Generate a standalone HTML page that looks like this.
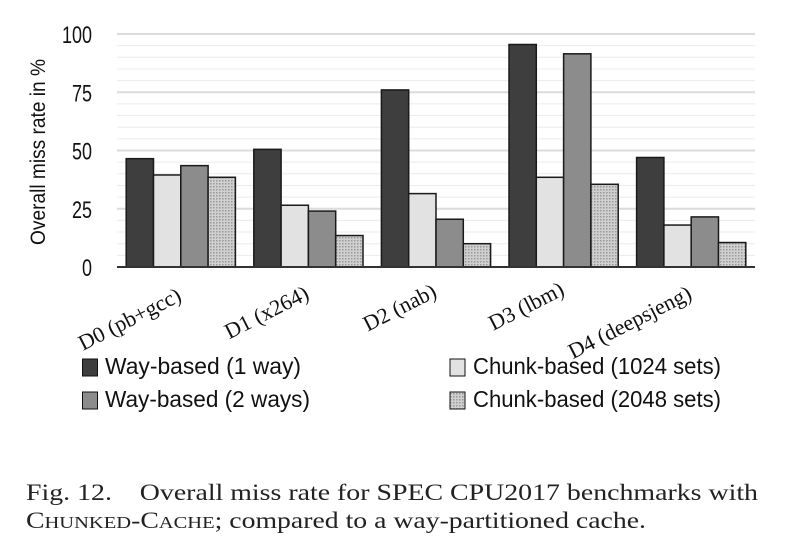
<!DOCTYPE html>
<html><head><meta charset="utf-8"><style>
body{margin:0;background:#fff;width:810px;height:550px;overflow:hidden}
</style></head><body>
<svg width="810" height="550" xmlns="http://www.w3.org/2000/svg">
<defs>
<pattern id="dots" width="3" height="3" patternUnits="userSpaceOnUse"><rect width="3" height="3" fill="#d0d0d0"/><rect width="1.5" height="1.5" fill="#999"/></pattern>
</defs>
<g id="grid"></g>
<g id="bars"></g>
<g id="labels"></g>
<text transform="translate(45,152) rotate(-90)" text-anchor="middle" font-family="Liberation Sans, sans-serif" font-size="21" textLength="186" lengthAdjust="spacingAndGlyphs" fill="#111">Overall miss rate in %</text>
<g font-family="Liberation Sans, sans-serif" font-size="23" fill="#111">
<rect x="82.5" y="359" width="15" height="17" fill="#3e3e3e" stroke="#111"/>
<text x="105" y="374" textLength="196" lengthAdjust="spacingAndGlyphs">Way-based (1 way)</text>
<rect x="82.5" y="392" width="15" height="17" fill="#8c8c8c" stroke="#111"/>
<text x="105" y="407" textLength="205" lengthAdjust="spacingAndGlyphs">Way-based (2 ways)</text>
<rect x="450" y="359" width="15" height="17" fill="#e2e2e2" stroke="#111"/>
<text x="473" y="374" textLength="248" lengthAdjust="spacingAndGlyphs">Chunk-based (1024 sets)</text>
<rect x="450" y="392" width="15" height="17" fill="url(#dots)" stroke="#111"/>
<text x="473" y="407" textLength="248" lengthAdjust="spacingAndGlyphs">Chunk-based (2048 sets)</text>
</g>
<g font-family="Liberation Serif, serif" font-size="23" fill="#222">
<text x="26" y="500" textLength="732" lengthAdjust="spacingAndGlyphs">Fig. 12.&#160;&#160;&#160;&#160;Overall miss rate for SPEC CPU2017 benchmarks with</text>
<text x="26" y="528" textLength="620" lengthAdjust="spacingAndGlyphs">C<tspan font-size="17">HUNKED</tspan>-C<tspan font-size="17">ACHE</tspan>; compared to a way-partitioned cache.</text>
</g>
</svg>
<script>
const categories=["D0 (pb+gcc)","D1 (x264)","D2 (nab)","D3 (lbm)","D4 (deepsjeng)"];
const way1=[46.5,50.5,76,95.5,47];
const chunk1024=[39.5,26.5,31.5,38.5,18];
const way2=[43.5,24,20.5,91.5,21.5];
const chunk2048=[38.5,13.5,10,35.5,10.5];
const yTicks=[0,25,50,75,100];
const NS="http://www.w3.org/2000/svg";
const x0=117,x1=755,yBase=267,yTop=34;
const y=v=>yBase-(v/100)*(yBase-yTop);
const band=(x1-x0)/categories.length;
const bw=27.3;
function mk(t,a,p){const e=document.createElementNS(NS,t);for(const k in a)e.setAttribute(k,a[k]);p.appendChild(e);return e;}
const grid=document.getElementById('grid');
for(let v=0;v<=100;v+=5){const l=mk('line',{x1:x0,x2:x1,y1:y(v),y2:y(v),stroke:v%25?'#ececec':'#dcdcdc','stroke-width':v%25?1:2},grid);

}
yTicks.forEach(v=>{const t=mk('text',{x:92,y:y(v)+9,'text-anchor':'end','font-family':'Liberation Sans, sans-serif','font-size':'24',fill:'#111',textLength:String(v).length*10,lengthAdjust:'spacingAndGlyphs'},grid);t.textContent=v;

});
const series=[[way1,'#3e3e3e'],[chunk1024,'#e2e2e2'],[way2,'#8c8c8c'],[chunk2048,'url(#dots)']];
const names=['way1','chunk1024','way2','chunk2048'];
const bars=document.getElementById('bars');
categories.forEach((c,i)=>{
 const gx=x0+i*band+(band-4*bw)/2;
 series.forEach((s,j)=>{const v=s[0][i];
  const r=mk('rect',{x:gx+j*bw,y:y(v),width:bw,height:yBase-y(v),fill:s[1],stroke:'#1a1a1a','stroke-width':1.5},bars);
  
  });
 const t=mk('text',{transform:`translate(${x0+i*band+band/2+2},${(i==4?306:300)-i*2}) rotate(-27)`,'text-anchor':'end','font-family':'Liberation Serif, serif','font-size':'22',fill:'#111'},document.getElementById('labels'));
 t.textContent=c;
 
 
});
const ax=mk('line',{x1:x0,x2:x1,y1:yBase,y2:yBase,stroke:'#333','stroke-width':2},bars);


</script>
</body></html>
